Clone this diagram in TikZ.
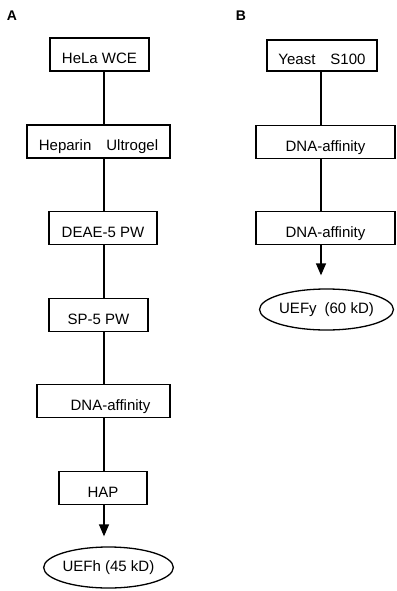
\documentclass[tikz,border=0pt]{standalone}
\usepackage{fontspec}
\setmainfont{Liberation Sans}
\usetikzlibrary{shapes.geometric, arrows.meta}

\begin{document}
\begin{tikzpicture}[x=1pt, y=-1pt,
		stepbox/.style={draw, line width=1.3pt, minimum height=33pt, inner sep=0pt,
			text height=18pt, text depth=0pt, font=\fontsize{15}{18}\selectfont},
		product/.style={draw, ellipse, line width=1.3pt, inner sep=0pt,
			font=\fontsize{15}{18}\selectfont},
		panel/.style={font=\bfseries\fontsize{14}{16}\selectfont},
		link/.style={line width=1.3pt},
		flow/.style={line width=1.3pt, -{Triangle[width=10pt, length=12pt]}}]
			\useasboundingbox (0,0) rectangle (396,591);
			
			% Panel labels
			\node[panel] (labelA) at (12,16) {A};
			\node[panel] (labelB) at (241,16) {B};
			
			% Column axes
			\coordinate (colA) at (104,0);
			\coordinate (colB) at (321,0);
			
			% Define nodes, panel A
			\node[stepbox, minimum width=99pt] (hela) at (99.5,54.5) {HeLa WCE};
			\node[stepbox, minimum width=143pt] (heparin) at (98.5,141.5) {Heparin\hspace{15pt}Ultrogel};
			\node[stepbox, minimum width=108pt] (deae) at (103,228) {DEAE-5 PW};
			\node[stepbox, minimum width=99pt] (sp) at (98.5,315) {SP-5 PW};
			\node[stepbox, minimum width=133pt] (dnaA) at (103.5,401) {\hspace{14pt}DNA-affinity};
			\node[stepbox, minimum width=88pt] (hap) at (103,488) {HAP};
			\node[product, minimum width=121pt, minimum height=41pt] (uefh) at (108.5,567.5) {UEFh (45 kD)};
			
			% Define nodes, panel B
			\node[stepbox, minimum width=110pt, minimum height=31pt] (yeast) at (322,55.5) {Yeast\hspace{15pt}S100};
			\node[stepbox, minimum width=139pt] (dnaB) at (325.5,142) {DNA-affinity};
			\node[stepbox, minimum width=139pt] (dnaBB) at (325.5,228) {DNA-affinity};
			\node[product, minimum width=119pt, minimum height=41pt] (uefy) at (326.5,309.5) {UEFy\hspace{8pt}(60 kD)};
			
			% Connect nodes
			\draw[link] (hela.south -| colA) -- (heparin.north -| colA);
			\draw[link] (heparin.south -| colA) -- (deae.north -| colA);
			\draw[link] (deae.south -| colA) -- (sp.north -| colA);
			\draw[link] (sp.south -| colA) -- (dnaA.north -| colA);
			\draw[link] (dnaA.south -| colA) -- (hap.north -| colA);
			\draw[flow, shorten >=10pt] (hap.south -| colA) -- (uefh.north -| colA);
			\draw[link] (yeast.south -| colB) -- (dnaB.north -| colB);
			\draw[link] (dnaB.south -| colB) -- (dnaBB.north -| colB);
			\draw[flow, shorten >=13pt] (dnaBB.south -| colB) -- (uefy.north -| colB);
		\end{tikzpicture}
\end{document}
